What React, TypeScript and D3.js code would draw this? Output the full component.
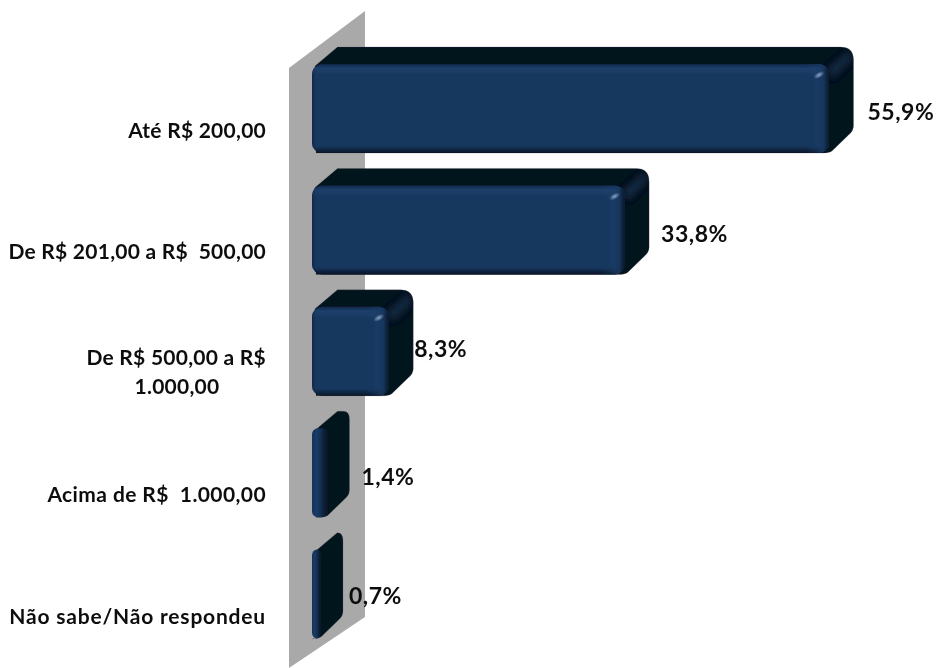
import React from "react";
import * as d3 from "d3";

const categories = ["Até R$ 200,00", "De R$ 201,00 a R$  500,00", "De R$ 500,00 a R$|1.000,00", "Acima de R$  1.000,00", "Não sabe/Não respondeu"];
const values = [55.9, 33.8, 8.3, 1.4, 0.7];
const valueLabels = ["55,9%", "33,8%", "8,3%", "1,4%", "0,7%"];

const W = 938, H = 668;
const x0 = 312, DX = 24.5, DY = -17;
const labelNudge = [14, 12, 1, 12, 6];
const labelDy = [-33, -32, -39, -32, -35];
const labelSpacing = [0.25, 0.25, 0.25, 0.4, 0.8];
const FRONT = "#17375e";
const DARK = "#06121f";

export default function App() {
  const x = d3.scaleLinear().domain([0, 55.9]).range([x0, 829]);
  const top = (i: number) => 64 + i * 121.4;
  const h = 89;
  const wall = d3.line()([[289, 68], [365, 11], [365, 617], [289, 668]]) + "Z";
  return (
    <svg width={W} height={H} style={{ position: "absolute", left: 0, top: 0, background: "#fff" }}>
      <defs>
        <filter id="soft" x="-5%" y="-5%" width="110%" height="110%"><feGaussianBlur stdDeviation="0.6" /></filter>
        <filter id="crease" x="-50%" y="-50%" width="200%" height="200%"><feGaussianBlur stdDeviation="3" /></filter>
        <filter id="txt" x="-5%" y="-20%" width="110%" height="140%"><feGaussianBlur stdDeviation="0.35" /></filter>
        <radialGradient id="spark"><stop offset="0%" stopColor="#8aa6c8" /><stop offset="100%" stopColor="#8aa6c8" stopOpacity={0} /></radialGradient>
        <linearGradient id="vert" x1="0" y1="0" x2="0" y2="1">
          <stop offset="0" stopColor="#10284a" />
          <stop offset="0.05" stopColor="#1c3f6b" />
          <stop offset="0.14" stopColor={FRONT} />
          <stop offset="0.92" stopColor={FRONT} />
          <stop offset="0.98" stopColor="#0c1e36" />
          <stop offset="1" stopColor="#08141f" />
        </linearGradient>
      </defs>
      <path d={wall} fill="#a9a9a9" />
      <g filter="url(#soft)">
        {values.map((v, i) => {
          const xr = x(v), t = top(i), w = xr - x0;
          const big = w > 30;
          const r = big ? 10 : 6;
          const back = `M${x0 + 3},${t + 2} L${x0 + DX + 1},${t + DY} H${xr + DX - (big ? 13 : 6)} Q${xr + DX},${t + DY} ${xr + DX},${t + DY + (big ? 13 : 8)} V${t + h + DY - 10} Q${xr + DX},${t + h + DY - 5} ${xr + DX - 5},${t + h + DY - 1} L${xr + 3},${t + h - 2} Q${xr},${t + h} ${xr - 6},${t + h} H${x0 + 4} Z`;
          return (
            <g key={i}>
              <linearGradient id={`hz${i}`} gradientUnits="userSpaceOnUse" x1={xr - 24} x2={xr + 1} y1={0} y2={0}>
                <stop offset="0" stopColor="#1e3f6a" stopOpacity={0} />
                <stop offset="0.45" stopColor="#1e3f6a" stopOpacity={0.35} />
                <stop offset="0.72" stopColor="#17375e" stopOpacity={0.85} />
                <stop offset="1" stopColor={DARK} stopOpacity={1} />
              </linearGradient>
              <linearGradient id={`sm${i}`} gradientUnits="userSpaceOnUse" x1={x0} x2={xr + 3} y1={0} y2={0}>
                <stop offset="0" stopColor="#12305a" />
                <stop offset="0.3" stopColor="#1a3d68" />
                <stop offset="1" stopColor={DARK} />
              </linearGradient>
              <linearGradient id={`lf${i}`} gradientUnits="userSpaceOnUse" x1={x0} x2={x0 + 4} y1={0} y2={0}>
                <stop offset="0" stopColor="#0f2a4c" />
                <stop offset="1" stopColor="#0f2a4c" stopOpacity={0} />
              </linearGradient>
              <path d={back} fill={DARK} stroke="#555" strokeOpacity={0.3} strokeWidth={0.8} />
              <clipPath id={`cl${i}`}><path d={back} /></clipPath>
              {big && (
                <g clipPath={`url(#cl${i})`}>
                  <path d={`M${xr - 2},${t + 6} L${xr + DX - 4},${t + DY + 4} L${xr + DX - 2},${t + DY + 12} L${xr + 4},${t + 14} Z`} fill="#1a3550" filter="url(#crease)" opacity={0.75} />
                </g>
              )}
              {big ? (
                <>
                  <rect x={x0} y={t} width={w} height={h} rx={r} ry={r} fill="url(#vert)" />
                  <rect x={x0} y={t} width={w} height={h} rx={r} ry={r} fill={`url(#hz${i})`} />
                  <rect x={x0} y={t} width={w} height={h} rx={r} ry={r} fill={`url(#lf${i})`} />
                </>
              ) : (
                <rect x={x0} y={t} width={w + 3} height={h} rx={r} ry={r} fill={`url(#sm${i})`} />
              )}
              {w > 50 && <ellipse cx={xr - 10} cy={t + 11} rx={6} ry={3} fill="url(#spark)" transform={`rotate(-30 ${xr - 10} ${t + 11})`} />}
            </g>
          );
        })}
      </g>
      <g filter="url(#txt)" fontFamily="Lato, 'Open Sans', sans-serif" fontWeight={700} fill="#111">
        {categories.map((c, i) => {
          const cy = top(i) + 74;
          const lines = c.split("|");
          return lines.length > 1 ? (
            <g key={c} fontSize={21} letterSpacing={labelSpacing[i]}>
              <text x={266} y={top(i) + 58} textAnchor="end">{lines[0]}</text>
              <text x={177} y={top(i) + 87} textAnchor="middle">{lines[1]}</text>
            </g>
          ) : (
            <text key={c} x={266} y={cy} textAnchor="end" fontSize={21} letterSpacing={labelSpacing[i]} xmlSpace="preserve">{c}</text>
          );
        })}
        {values.map((v, i) => (
          <text key={i} x={x(v) + DX + labelNudge[i]} y={top(i) + h + labelDy[i]} fontSize={23} letterSpacing={0.5}>{valueLabels[i]}</text>
        ))}
      </g>
    </svg>
  );
}
